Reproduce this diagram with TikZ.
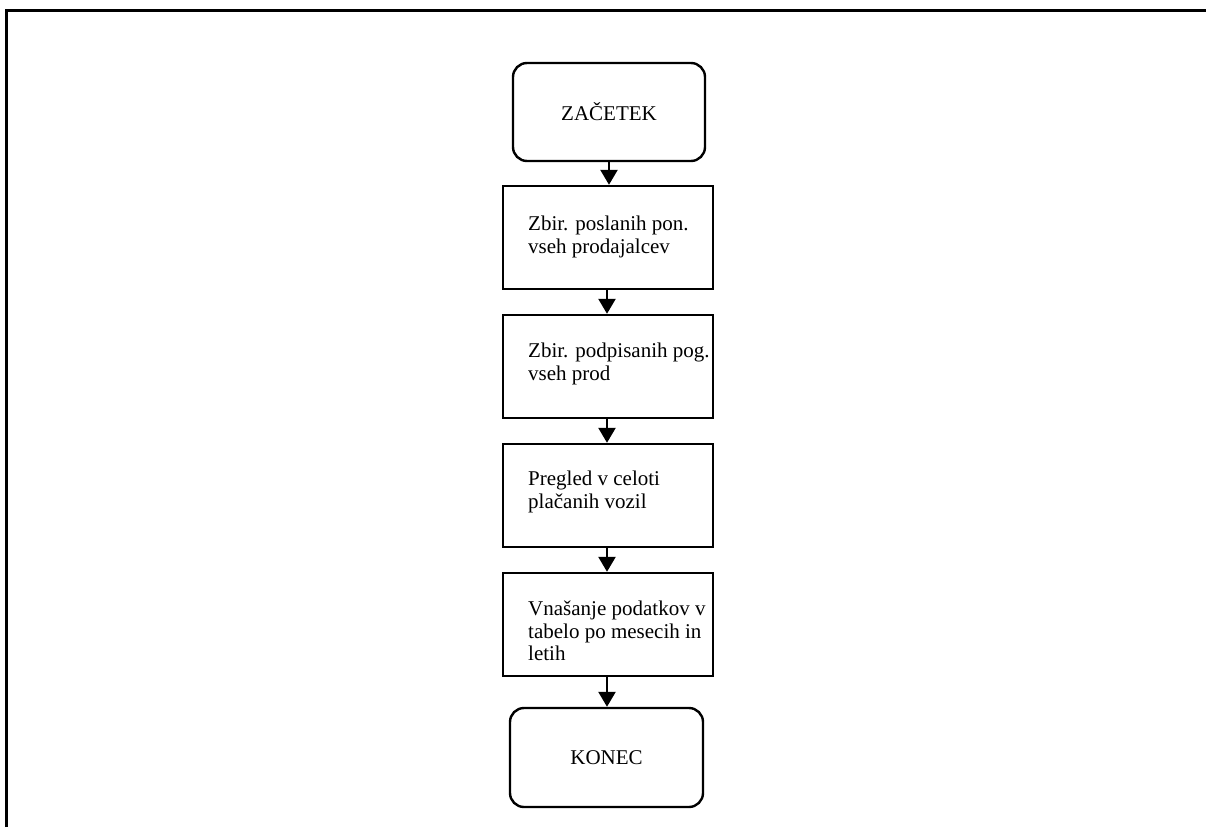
\documentclass[tikz,border=0pt]{standalone}
\usepackage{fontspec}
\setmainfont{Liberation Serif}
\usetikzlibrary{arrows.meta}
\begin{document}
\begin{tikzpicture}[x=1pt,y=-1pt,
  every node/.style={font=\fontsize{21}{22.5}\selectfont},
  procbox/.style={draw, line width=2.4pt, minimum width=210pt, minimum height=103pt, inner sep=0pt},
  termbox/.style={draw, line width=2.4pt, rounded corners=14pt, inner sep=0pt},
  boxtext/.style={anchor=north west, align=left, inner sep=0pt},
  arr/.style={line width=2.4pt, -{Triangle[width=17pt,length=15pt]}},
  frame/.style={line width=3pt}]
\useasboundingbox (0,0) rectangle (1207,827);
\draw[frame] (6,827) -- (6,10) -- (1206,10);

\node[termbox, minimum width=192pt, minimum height=98pt] (start) at (609,112) {ZAČETEK};
\node[procbox] (b1) at (608,237.5) {};
\node[procbox] (b2) at (608,366.5) {};
\node[procbox] (b3) at (608,495.5) {};
\node[procbox] (b4) at (608,624.5) {};
\node[termbox, minimum width=193pt, minimum height=99pt] (end) at (606.5,757.5) {KONEC};

\node[boxtext] (t1) at (528,216) {Zbir. poslanih pon.\\vseh prodajalcev};
\node[boxtext] (t2) at (528,343) {Zbir. podpisanih pog.\\vseh prod};
\node[boxtext] (t3) at (528,471) {Pregled v celoti\\plačanih vozil};
\node[boxtext] (t4) at (528,601) {Vnašanje podatkov v\\tabelo po mesecih in\\letih};

\draw[arr] (start.south) -- (start.south |- b1.north);
\draw[arr] ([xshift=-1pt]b1.south) -- ([xshift=-1pt]b1.south |- b2.north);
\draw[arr] ([xshift=-1pt]b2.south) -- ([xshift=-1pt]b2.south |- b3.north);
\draw[arr] ([xshift=-1pt]b3.south) -- ([xshift=-1pt]b3.south |- b4.north);
\draw[arr] ([xshift=-1pt]b4.south) -- ([xshift=-1pt]b4.south |- end.north);
\end{tikzpicture}
\end{document}
